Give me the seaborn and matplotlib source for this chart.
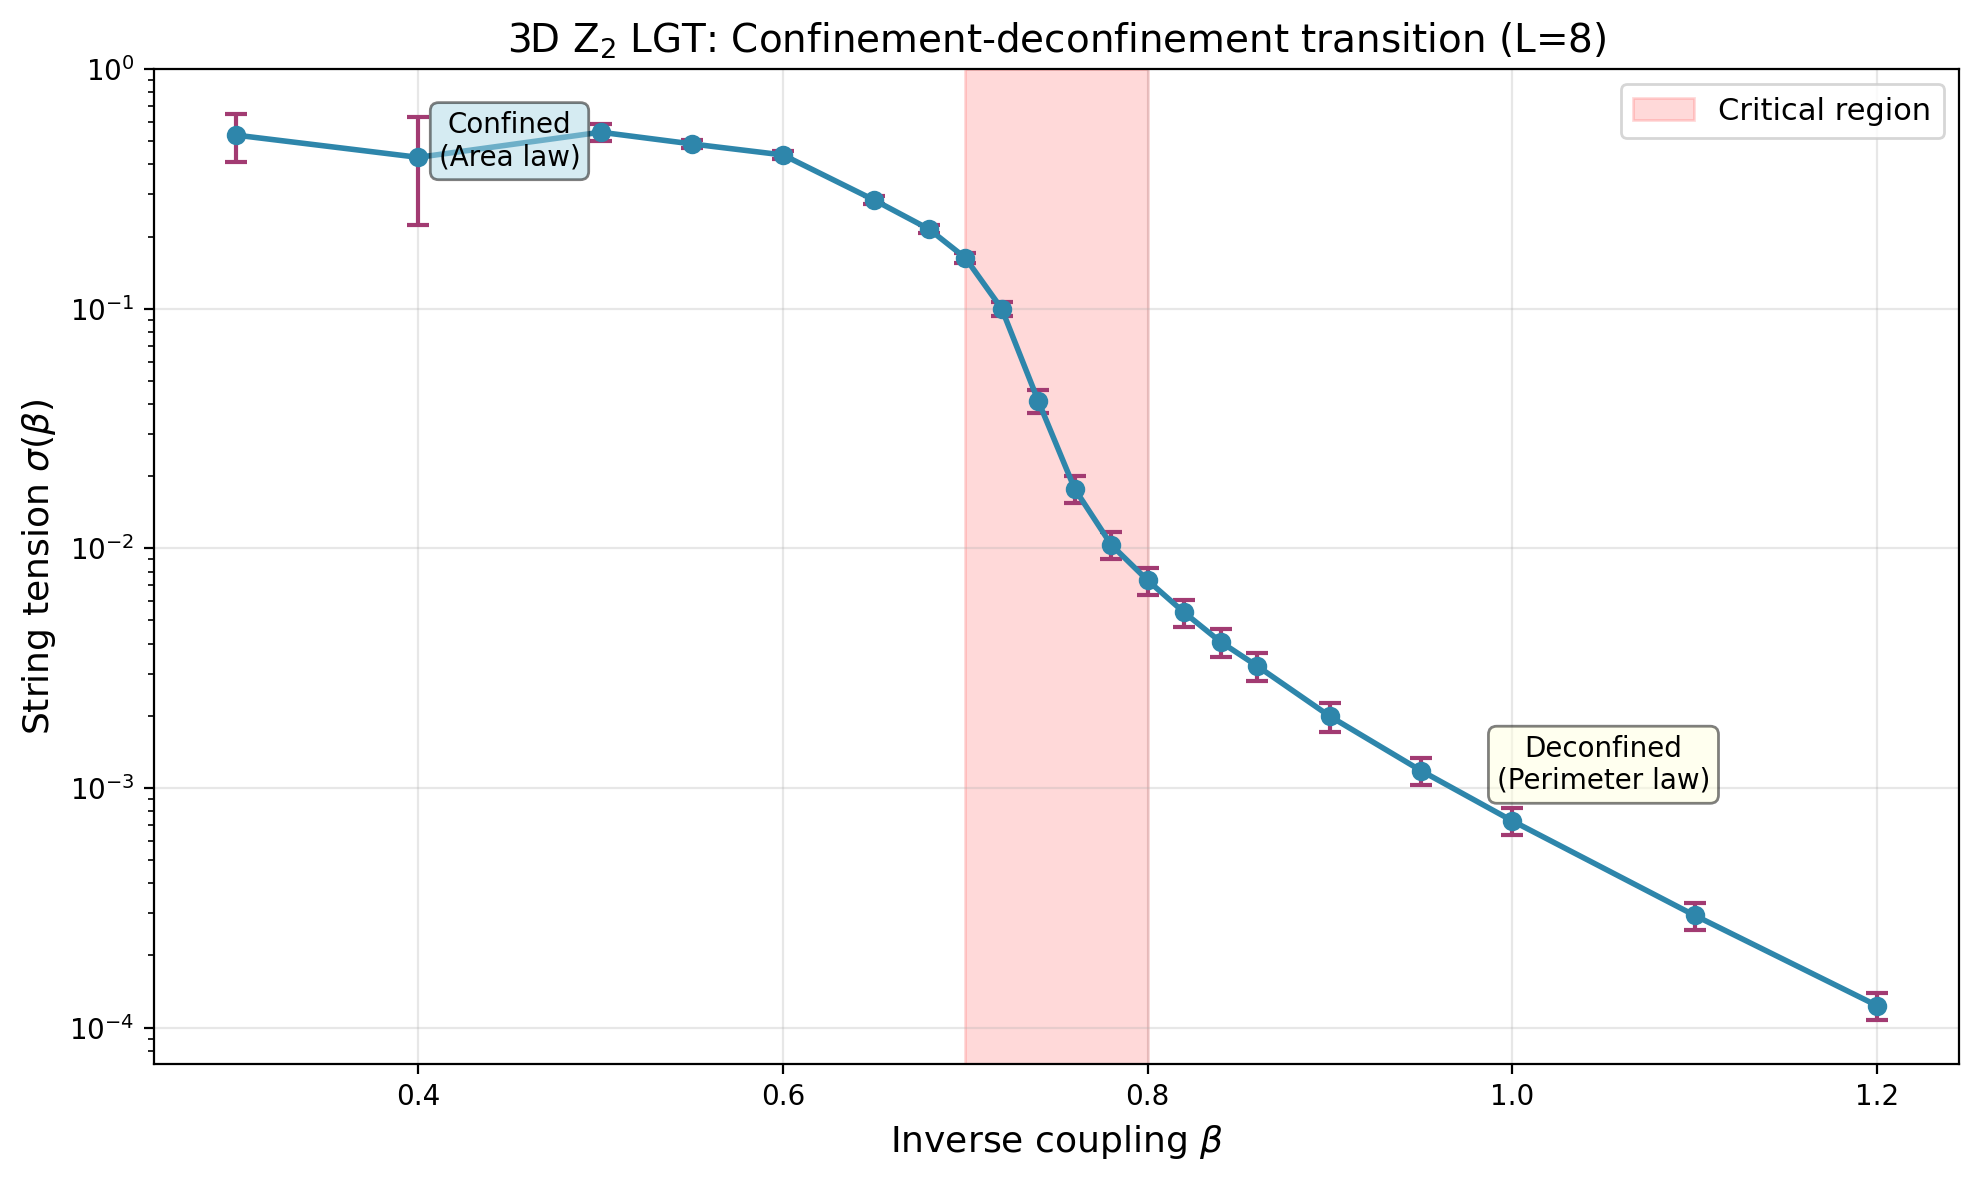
import matplotlib
matplotlib.use("Agg")
import matplotlib.pyplot as plt
import seaborn as sns
import numpy as np

# Data
beta = [0.30, 0.40, 0.50, 0.55, 0.60, 0.65, 0.68, 0.70, 0.72, 0.74, 0.76,
        0.78, 0.80, 0.82, 0.84, 0.86, 0.90, 0.95, 1.00, 1.10, 1.20]
sigma = [0.530, 0.428, 0.545, 0.487, 0.438, 0.284, 0.215, 0.163, 0.0998,
         0.0412, 0.0177, 0.01035, 0.00735, 0.0054, 0.00407, 0.00323,
         0.00199, 0.00118, 0.000729, 0.000294, 0.0001236]
sigma_err = [0.122, 0.204, 0.044, 0.020, 0.017, 0.011, 0.0077, 0.008, 0.007,
             0.0044, 0.0023, 0.00135, 0.00096, 0.0007, 0.00054, 0.00044,
             0.000275, 0.000153, 0.000095, 0.000038, 0.000016]
critical_region = (0.70, 0.80)

line_color = "#2E86AB"
err_color = "#A23B72"

fig = plt.figure(figsize=(1979 / 200, 1180 / 200), dpi=200)
ax = fig.add_subplot(111)
fig.subplots_adjust(left=0.0778, right=0.9899, top=0.9415, bottom=0.0983)

ax.axvspan(critical_region[0], critical_region[1], color="red", alpha=0.15,
           label="Critical region", zorder=1)

ax.errorbar(beta, sigma, yerr=sigma_err, fmt="none", ecolor=err_color,
            elinewidth=1.5, capsize=4, capthick=1.5, zorder=2)

sns.lineplot(x=beta, y=sigma, ax=ax, color=line_color, marker="o",
             markersize=6, markeredgecolor=line_color, markeredgewidth=1,
             linewidth=2, zorder=3)

ax.set_yscale("log")
ax.set_ylim(7.05e-5, 1.0)
ax.grid(True, alpha=0.3)

ax.set_xlabel(r"Inverse coupling $\beta$", fontsize=13)
ax.set_ylabel(r"String tension $\sigma(\beta)$", fontsize=13)
ax.set_title(r"3D Z$_2$ LGT: Confinement-deconfinement transition (L=8)",
             fontsize=14)

ax.text(0.45, 0.5, "Confined\n(Area law)", ha="center", va="center",
        fontsize=10, bbox=dict(boxstyle="round", facecolor="lightblue", alpha=0.5))
ax.text(1.05, 0.00125, "Deconfined\n(Perimeter law)", ha="center", va="center",
        fontsize=10, bbox=dict(boxstyle="round", facecolor="lightyellow", alpha=0.5))

ax.legend(loc="upper right", fontsize=11)

fig.savefig("out.png", dpi=200)
